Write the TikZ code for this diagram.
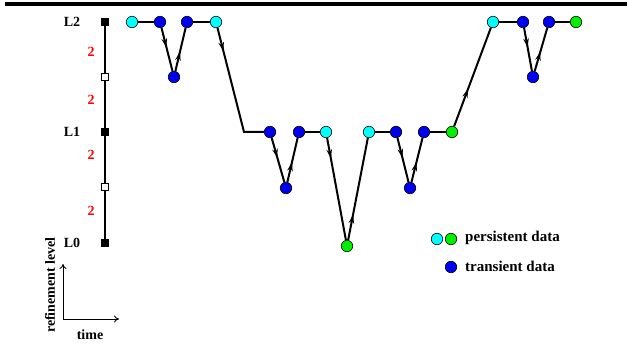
\documentclass[tikz,border=0pt]{standalone}
\usepackage{fontspec}
\setmainfont{Liberation Serif}
\usetikzlibrary{arrows.meta,decorations.markings}
\definecolor{pcyan}{RGB}{0,255,255}
\definecolor{pgreen}{RGB}{0,240,0}
\definecolor{tblue}{RGB}{0,0,240}
\definecolor{rred}{RGB}{255,0,0}
\tikzset{
  dot/.style={circle,draw=black,line width=0.6pt,minimum size=11.5pt,inner sep=0pt,fill=#1},
  lvl/.style={rectangle,draw=black,line width=0.6pt,minimum size=7.5pt,inner sep=0pt,fill=#1},
  lbl/.style={font=\fontsize{14}{15}\selectfont\bfseries,inner sep=0pt},
  leg/.style={font=\fontsize{15}{16}\selectfont\bfseries,inner sep=0pt,anchor=west},
  edge/.style={line width=2pt},
  arr/.style={edge,postaction={decorate},decoration={markings,mark=at position #1 with {\arrow{Stealth[length=9pt,width=5.5pt]}}}}
}
\begin{document}
\begin{tikzpicture}[x=1pt,y=-1pt]
\useasboundingbox[fill=white] (0,0) rectangle (629,347);
\draw[line width=3.2pt] (5,4) -- (627,4);
% level axis
\node[lvl=black] (l2) at (105,22) {};
\node[lvl=white] (h2) at (105,77) {};
\node[lvl=black] (l1) at (105,132) {};
\node[lvl=white] (h1) at (105,187) {};
\node[lvl=black] (l0) at (105,243) {};
\draw[line width=1.2pt] (l2) -- (h2) -- (l1) -- (h1) -- (l0);
\node[lbl] (t2) at (72,22) {L2};
\node[lbl] (t1) at (72,132) {L1};
\node[lbl] (t0) at (72,243) {L0};
\node[lbl,text=rred] (r1) at (91,52) {2};
\node[lbl,text=rred] (r2) at (91,100) {2};
\node[lbl,text=rred] (r3) at (91,155) {2};
\node[lbl,text=rred] (r4) at (91,211) {2};
% small axes
\coordinate (o) at (63,319);
\coordinate (oy) at (63,264);
\coordinate (ox) at (119,319);
\draw[line width=0.9pt,-{To[length=5pt,width=7pt]}] (o) -- (oy);
\draw[line width=0.9pt,-{To[length=5pt,width=7pt]}] (o) -- (ox);
\node[lbl] (time) at (90,335) {time};
\node[lbl,rotate=90] (rl) at (50,285) {refinement level};
% top L2 group
\node[dot=pcyan] (a1) at (132,22) {};
\node[dot=tblue] (a2) at (160,22) {};
\node[dot=tblue] (ad) at (174,77) {};
\node[dot=tblue] (a3) at (187,22) {};
\node[dot=pcyan] (a4) at (216,22) {};
\coordinate (k1) at (244,132);
% L1 row
\node[dot=tblue] (b1) at (270,132) {};
\node[dot=tblue] (bd) at (286,188) {};
\node[dot=tblue] (b2) at (299,132) {};
\node[dot=pcyan] (b3) at (326,132) {};
\node[dot=pgreen] (g0) at (347,246) {};
\node[dot=pcyan] (b4) at (369,132) {};
\node[dot=tblue] (b5) at (396,132) {};
\node[dot=tblue] (be) at (410,188) {};
\node[dot=tblue] (b6) at (424,132) {};
\node[dot=pgreen] (b7) at (452,132) {};
% top right group
\node[dot=pcyan] (c1) at (493,22) {};
\node[dot=tblue] (c2) at (523,22) {};
\node[dot=tblue] (cd) at (533,77) {};
\node[dot=tblue] (c3) at (549,22) {};
\node[dot=pgreen] (c4) at (576,22) {};
% edges
\draw[edge] (a1) -- (a2);
\draw[arr=0.45] (a2) -- (ad);
\draw[arr=0.45] (ad) -- (a3);
\draw[edge] (a3) -- (a4);
\draw[arr=24pt,line join=miter] (a4) -- (k1) -- (b1);
\draw[arr=0.45] (b1) -- (bd);
\draw[arr=0.45] (bd) -- (b2);
\draw[edge] (b2) -- (b3);
\draw[arr=0.2] (b3) -- (g0);
\draw[arr=0.25] (g0) -- (b4);
\draw[edge] (b4) -- (b5);
\draw[arr=0.45] (b5) -- (be);
\draw[arr=0.45] (be) -- (b6);
\draw[edge] (b6) -- (b7);
\draw[arr=0.38] (b7) -- (c1);
\draw[edge] (c1) -- (c2);
\draw[arr=0.45] (c2) -- (cd);
\draw[arr=0.45] (cd) -- (c3);
\draw[edge] (c3) -- (c4);
% legend
\node[dot=pcyan] (k1c) at (437,239) {};
\node[dot=pgreen] (k1g) at (451,239) {};
\node[leg] (kp) at (465,238) {persistent data};
\node[dot=tblue] (k2b) at (451,267) {};
\node[leg] (kt) at (465,266) {transient data};
\end{tikzpicture}
\end{document}
